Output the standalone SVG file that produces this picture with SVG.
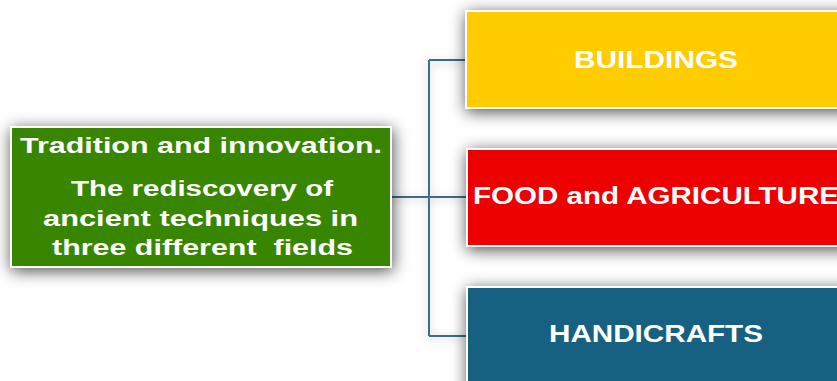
<svg xmlns="http://www.w3.org/2000/svg" width="837" height="381" viewBox="0 0 837 381">
<defs>
<filter id="sh" x="-20%" y="-40%" width="140%" height="180%">
<feDropShadow dx="1" dy="3" stdDeviation="8" flood-color="#000" flood-opacity="0.7"/>
</filter>
<filter id="lsh" x="-50%" y="-50%" width="200%" height="200%">
<feDropShadow dx="0" dy="2" stdDeviation="4" flood-color="#000" flood-opacity="0.25"/>
</filter>
</defs>
<style>
.box{stroke:#ffffff;stroke-width:2}
.t{font-family:"Liberation Sans",Arial,sans-serif;font-weight:bold;fill:#ffffff}
.c{fill:none;stroke:#3b6c89;stroke-width:2}
</style>
<rect width="837" height="381" fill="#ffffff"/>
<g id="connectors" filter="url(#lsh)">
<path class="c" d="M391,197 H466 M429,60 V336 M429,60 H466 M429,336 H466"/>
</g>
<g id="main">
<rect class="box" x="11" y="127" width="380" height="140" fill="#378600" filter="url(#sh)"/>
<text class="t" font-size="21.5" x="20" y="153" textLength="362" lengthAdjust="spacingAndGlyphs">Tradition and innovation.</text>
<text class="t" font-size="21.5" x="71" y="196" textLength="262" lengthAdjust="spacingAndGlyphs">The rediscovery of</text>
<text class="t" font-size="21.5" x="43" y="226" textLength="315" lengthAdjust="spacingAndGlyphs">ancient techniques in</text>
<text class="t" font-size="21.5" x="52" y="255" textLength="301" lengthAdjust="spacingAndGlyphs" xml:space="preserve">three different  fields</text>
</g>
<g id="buildings">
<rect class="box" x="466" y="11" width="390" height="97" fill="#ffcc00" filter="url(#sh)"/>
<text class="t" font-size="24" x="574" y="68" textLength="164" lengthAdjust="spacingAndGlyphs">BUILDINGS</text>
</g>
<g id="food">
<rect class="box" x="467" y="149" width="390" height="97" fill="#ee0000" filter="url(#sh)"/>
<text class="t" font-size="23.5" x="473" y="204" textLength="366" lengthAdjust="spacingAndGlyphs">FOOD and AGRICULTURE</text>
</g>
<g id="handicrafts">
<rect class="box" x="467" y="287" width="390" height="110" fill="#166082" filter="url(#sh)"/>
<text class="t" font-size="23.5" x="549" y="342" textLength="214" lengthAdjust="spacingAndGlyphs">HANDICRAFTS</text>
</g>
</svg>
